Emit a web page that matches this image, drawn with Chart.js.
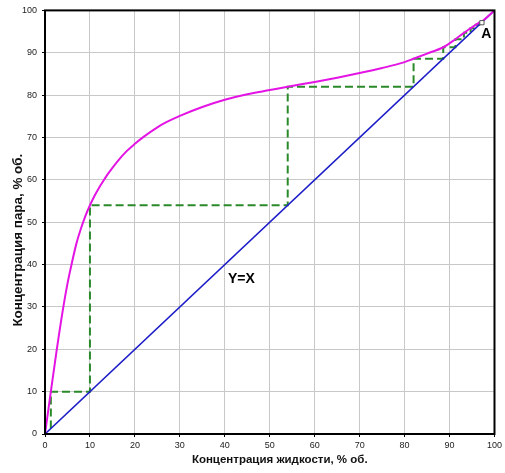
<!DOCTYPE html>
<html><head><meta charset="utf-8">
<script src="https://cdn.jsdelivr.net/npm/chart.js@4/dist/chart.umd.min.js"></script>
<style>html,body{margin:0;padding:0;background:#fff}#wrap{width:505px;height:473px}</style>
</head><body><div id="wrap"><canvas id="c" width="505" height="473"></canvas></div>
<script>
// Equilibrium curve (vapour vs liquid concentration, % vol.)
const curveX = [0, 1.3, 2.6, 4, 5, 6, 7, 8, 9, 10, 11, 12, 13, 14, 16, 18, 20, 22, 25, 27, 30, 35, 40, 45, 50, 54, 60, 65, 70, 75, 80, 82, 85, 88.6, 91.3, 93.2, 94.7, 95.8, 96.6, 97.2, 100];
const curveY = [0, 10, 19.8, 29.5, 35.5, 40.5, 45, 48.5, 51.5, 54, 56.2, 58.1, 59.8, 61.4, 64.2, 66.6, 68.5, 70.2, 72.4, 73.6, 75.1, 77.2, 78.9, 80.2, 81.2, 82, 83.1, 84.1, 85.2, 86.4, 87.8, 88.6, 89.8, 91.3, 93.2, 94.7, 95.8, 96.6, 97.1, 97.4, 100];
// Diagonal Y=X
const diagX = [0, 100];
const diagY = [0, 100];
// Theoretical plate staircase
const stepX = [1.3, 1.3, 10, 10, 54, 54, 82, 82, 88.6, 88.6, 91.3, 91.3, 93.2, 93.2, 94.7, 94.7, 95.8, 95.8, 96.6, 96.6, 97.1];
const stepY = [1.3, 10, 10, 54, 54, 82, 82, 88.6, 88.6, 91.3, 91.3, 93.2, 93.2, 94.7, 94.7, 95.8, 95.8, 96.6, 96.6, 97.1, 97.1];
// Point A
const pointAX = [97.2];
const pointAY = [97.1];
// Tick labels
const tickValues = [0, 10, 20, 30, 40, 50, 60, 70, 80, 90, 100];
// Annotations
const notes = [
  {text: 'A', x: 98.2, y: 94.5},
  {text: 'Y=X', x: 43.7, y: 36.5}
];
const xTitle = 'Концентрация жидкости, % об.';
const yTitle = 'Концентрация пара, % об.';

const pts = (xs, ys) => xs.map((x, i) => ({x, y: ys[i]}));

const framePlugin = {
  id: 'frame',
  afterDatasetsDraw(chart) {
    const {ctx, chartArea: a, scales} = chart;
    ctx.save();
    ctx.fillStyle = '#000';
    ctx.font = 'bold 14px "Liberation Sans", Arial, sans-serif';
    ctx.textAlign = 'center';
    ctx.textBaseline = 'middle';
    notes.forEach(n => ctx.fillText(n.text, scales.x.getPixelForValue(n.x), scales.y.getPixelForValue(n.y)));
    ctx.restore();
  },
  afterDraw(chart) {
    const {ctx, chartArea: a} = chart;
    ctx.save();
    ctx.strokeStyle = '#000';
    ctx.lineWidth = 2;
    ctx.strokeRect(a.left, a.top, a.right - a.left, a.bottom - a.top);
    // axis titles
    ctx.fillStyle = '#111';
    ctx.textAlign = 'center';
    ctx.textBaseline = 'middle';
    ctx.font = 'bold 11.5px "Liberation Sans", Arial, sans-serif';
    ctx.fillText(xTitle, (a.left + a.right) / 2 + 10, a.bottom + 26);
    ctx.translate(18, (a.top + a.bottom) / 2 + 18);
    ctx.rotate(-Math.PI / 2);
    ctx.font = 'bold 13.4px "Liberation Sans", Arial, sans-serif';
    ctx.fillText(yTitle, 0, 0);
    ctx.restore();
  }
};

new Chart(document.getElementById('c'), {
  type: 'scatter',
  data: {
    datasets: [
      {data: pts(stepX, stepY), showLine: true, borderColor: '#2a8a2a', borderWidth: 2, borderDash: [8, 4], pointRadius: 0, tension: 0, order: 3},
      {data: pts(diagX, diagY), showLine: true, borderColor: '#1c1cc8', borderWidth: 1.6, pointRadius: 0, order: 2},
      {data: pts(curveX, curveY), showLine: true, borderColor: '#e414e4', borderWidth: 2, pointRadius: 0, cubicInterpolationMode: 'monotone', order: 1},
      {data: pts(pointAX, pointAY), showLine: false, pointStyle: 'rect', pointRadius: 3, backgroundColor: '#fff', borderColor: '#555', borderWidth: 1, order: 0}
    ]
  },
  options: {
    responsive: false,
    animation: false,
    layout: {padding: {top: 7, right: 10, left: 0, bottom: 0}},
    plugins: {legend: {display: false}, tooltip: {enabled: false}},
    scales: {
      x: {
        type: 'linear', min: 0, max: 100,
        afterBuildTicks: s => { s.ticks = tickValues.map(v => ({value: v})); },
        afterFit: s => { s.height = 39; },
        grid: {color: '#c8c8c8', lineWidth: 1, tickLength: 3, tickColor: '#000', drawTicks: true},
        border: {display: false},
        ticks: {color: '#222', padding: 3, font: {family: '"Liberation Sans Narrow", "Liberation Sans", Arial', size: 9}},
        title: {display: false, text: xTitle}
      },
      y: {
        type: 'linear', min: 0, max: 100,
        afterBuildTicks: s => { s.ticks = tickValues.map(v => ({value: v})); },
        afterFit: s => { s.width = 45; },
        grid: {color: '#c8c8c8', lineWidth: 1, tickLength: 3, tickColor: '#000', drawTicks: true},
        border: {display: false},
        ticks: {color: '#222', padding: 5, font: {family: '"Liberation Sans Narrow", "Liberation Sans", Arial', size: 9}},
        title: {display: false, text: yTitle}
      }
    }
  },
  plugins: [framePlugin]
});
</script>
</body></html>
